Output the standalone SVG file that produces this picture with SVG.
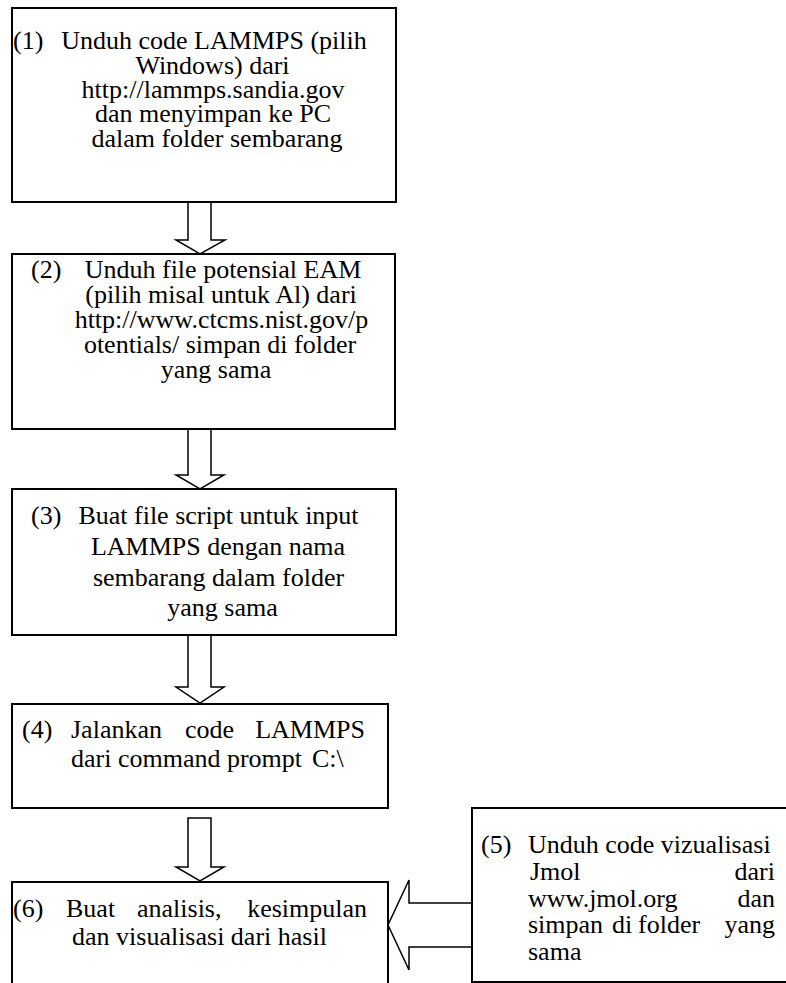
<svg xmlns="http://www.w3.org/2000/svg" width="786" height="983" viewBox="0 0 786 983">
<style>
.box{fill:#fff;stroke:#000;stroke-width:2}
.arr{fill:#fff;stroke:#000;stroke-width:1.5;stroke-linejoin:miter}
text{font-family:"Liberation Serif","Times New Roman",serif;font-size:26px;fill:#000}
.m{text-anchor:middle}
.e{text-anchor:end}
</style>
<rect width="786" height="983" fill="#fff"/>
<g id="connectors">
<polygon class="arr" points="188,202 211,202 211,240 225,240 200,254 176,240 188,240"/>
<polygon class="arr" points="188,429 211,429 211,475 224,475 200,489 176,475 188,475"/>
<polygon class="arr" points="188,635 211,635 211,687 224,687 200,703 176,687 188,687"/>
<polygon class="arr" points="188,818 211,818 211,867 224,867 200,881 176,867 188,867"/>
<polygon class="arr" points="472,903 409,903 409,880 388,925 409,970 409,947 472,947"/>
</g>
<g id="n1">
<rect class="box" x="12" y="8" width="384" height="194"/>
<text x="13" y="49">(1)</text>
<text class="m" x="214" y="49">Unduh code LAMMPS (pilih</text>
<text class="m" x="212.5" y="74">Windows) dari</text>
<text class="m" x="213" y="98">http://lammps.sandia.gov</text>
<text class="m" x="213" y="122">dan menyimpan ke PC</text>
<text class="m" x="217" y="147">dalam folder sembarang</text>
</g>
<g id="n2">
<rect class="box" x="12" y="254" width="383" height="175"/>
<text x="31" y="278">(2)</text>
<text class="m" x="223" y="278">Unduh file potensial EAM</text>
<text class="m" x="221" y="303">(pilih misal untuk Al) dari</text>
<text class="m" x="221.5" y="328">http://www.ctcms.nist.gov/p</text>
<text class="m" x="220" y="353">otentials/ simpan di folder</text>
<text class="m" x="216" y="378">yang sama</text>
</g>
<g id="n3">
<rect class="box" x="12" y="489" width="384" height="146"/>
<text x="31" y="524">(3)</text>
<text class="m" x="218.5" y="524">Buat file script untuk input</text>
<text class="m" x="218" y="555">LAMMPS dengan nama</text>
<text class="m" x="218.5" y="586">sembarang dalam folder</text>
<text class="m" x="222.5" y="616">yang sama</text>
</g>
<g id="n4">
<rect class="box" x="12" y="704" width="376" height="104"/>
<text x="22" y="738">(4)</text>
<text x="71" y="738">Jalankan</text>
<text x="185" y="738">code</text>
<text class="e" x="365" y="738">LAMMPS</text>
<text x="71" y="767">dari command prompt</text>
<text x="312" y="767">C:\</text>
</g>
<g id="n5">
<rect class="box" x="472" y="808" width="330" height="174"/>
<text x="481" y="853">(5)</text>
<text x="528" y="853">Unduh code vizualisasi</text>
<text x="530" y="880">Jmol</text>
<text class="e" x="775" y="880">dari</text>
<text x="528" y="907">www.jmol.org</text>
<text class="e" x="775" y="907">dan</text>
<text x="528" y="933">simpan</text>
<text x="612" y="933">di</text>
<text x="638" y="933">folder</text>
<text class="e" x="775" y="933">yang</text>
<text x="528" y="960">sama</text>
</g>
<g id="n6">
<rect class="box" x="12" y="882" width="376" height="120"/>
<text x="13" y="917">(6)</text>
<text x="66" y="917">Buat</text>
<text x="137" y="917">analisis,</text>
<text class="e" x="367" y="917">kesimpulan</text>
<text x="72" y="945">dan visualisasi dari hasil</text>
</g>
</svg>
